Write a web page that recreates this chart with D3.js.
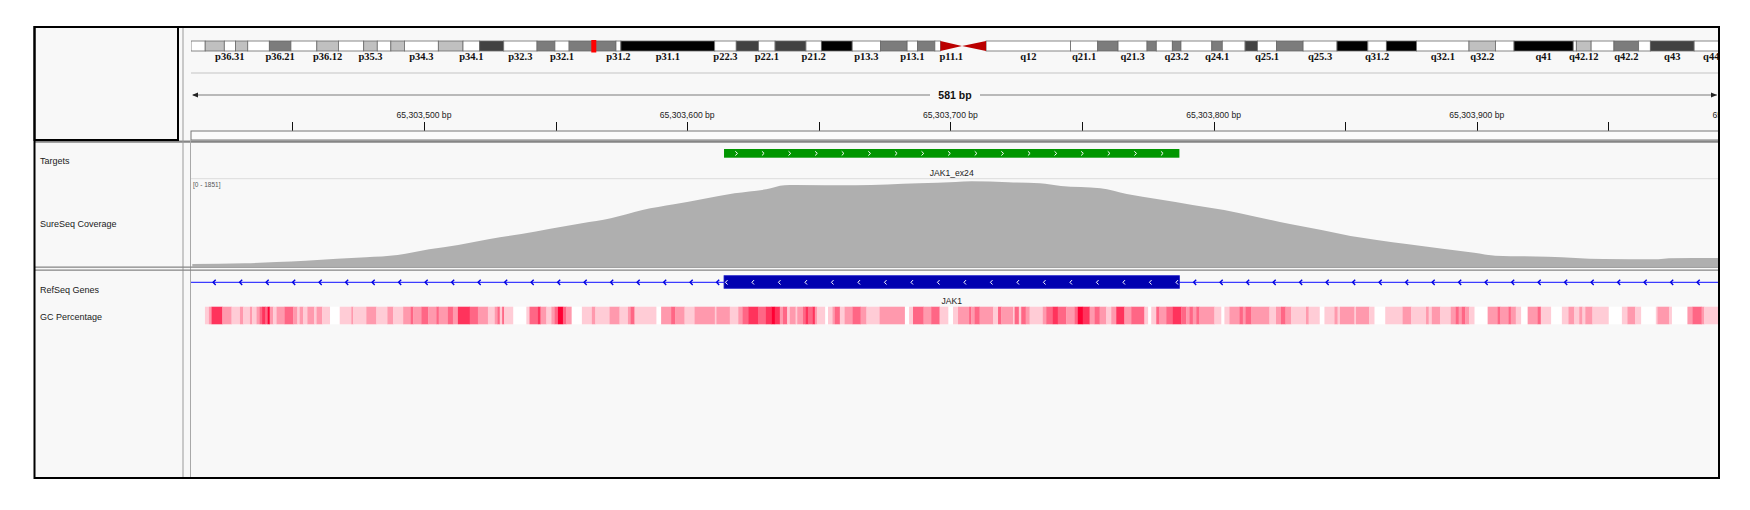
<!DOCTYPE html>
<html>
<head>
<meta charset="utf-8">
<script src="https://cdn.jsdelivr.net/npm/d3@7"></script>
<style>
  body { margin: 0; background: #fff; }
  svg { display: block; }
  text { font-family: "Liberation Sans", Arial, sans-serif; }
</style>
</head>
<body>
<script>
// ---- data ----
const chromName = "chr1";
const chromLengthMb = 249.250621;
const viewStart = 65303411.5;
const viewEnd = 65303992;

// cytobands, Mb
const bands = [
  ["p36.33", 0, 2.3, "gneg"], ["p36.32", 2.3, 5.4, "gpos25"], ["p36.31", 5.4, 7.2, "gneg"],
  ["p36.23", 7.2, 9.2, "gpos25"], ["p36.22", 9.2, 12.7, "gneg"], ["p36.21", 12.7, 16.2, "gpos50"],
  ["p36.13", 16.2, 20.4, "gneg"], ["p36.12", 20.4, 23.9, "gpos25"], ["p36.11", 23.9, 28.0, "gneg"],
  ["p35.3", 28.0, 30.2, "gpos25"], ["p35.2", 30.2, 32.4, "gneg"], ["p35.1", 32.4, 34.6, "gpos25"],
  ["p34.3", 34.6, 40.1, "gneg"], ["p34.2", 40.1, 44.1, "gpos25"], ["p34.1", 44.1, 46.8, "gneg"],
  ["p33", 46.8, 50.7, "gpos75"], ["p32.3", 50.7, 56.1, "gneg"], ["p32.2", 56.1, 59.0, "gpos50"],
  ["p32.1", 59.0, 61.3, "gneg"], ["p31.3", 61.3, 68.9, "gpos50"], ["p31.2", 68.9, 69.7, "gneg"],
  ["p31.1", 69.7, 84.9, "gpos100"], ["p22.3", 84.9, 88.4, "gneg"], ["p22.2", 88.4, 92.0, "gpos75"],
  ["p22.1", 92.0, 94.7, "gneg"], ["p21.3", 94.7, 99.7, "gpos75"], ["p21.2", 99.7, 102.2, "gneg"],
  ["p21.1", 102.2, 107.2, "gpos100"], ["p13.3", 107.2, 111.8, "gneg"], ["p13.2", 111.8, 116.1, "gpos50"],
  ["p13.1", 116.1, 117.8, "gneg"], ["p12", 117.8, 120.6, "gpos50"], ["p11.2", 120.6, 121.5, "gneg"],
  ["p11.1", 121.5, 125.0, "acen"], ["q11", 125.0, 128.9, "acen"], ["q12", 128.9, 142.6, "gvar"],
  ["q21.1", 142.6, 147.0, "gneg"], ["q21.2", 147.0, 150.3, "gpos50"], ["q21.3", 150.3, 155.0, "gneg"],
  ["q22", 155.0, 156.5, "gpos50"], ["q23.1", 156.5, 159.1, "gneg"], ["q23.2", 159.1, 160.5, "gpos50"],
  ["q23.3", 160.5, 165.5, "gneg"], ["q24.1", 165.5, 167.2, "gpos50"], ["q24.2", 167.2, 170.9, "gneg"],
  ["q24.3", 170.9, 172.9, "gpos75"], ["q25.1", 172.9, 176.0, "gneg"], ["q25.2", 176.0, 180.3, "gpos50"],
  ["q25.3", 180.3, 185.8, "gneg"], ["q31.1", 185.8, 190.8, "gpos100"], ["q31.2", 190.8, 193.8, "gneg"],
  ["q31.3", 193.8, 198.7, "gpos100"], ["q32.1", 198.7, 207.2, "gneg"], ["q32.2", 207.2, 211.5, "gpos25"],
  ["q32.3", 211.5, 214.5, "gneg"], ["q41", 214.5, 224.1, "gpos100"], ["q42.11", 224.1, 224.6, "gneg"],
  ["q42.12", 224.6, 227.0, "gpos25"], ["q42.13", 227.0, 230.7, "gneg"], ["q42.2", 230.7, 234.7, "gpos50"],
  ["q42.3", 234.7, 236.6, "gneg"], ["q43", 236.6, 243.7, "gpos75"], ["q44", 243.7, 249.25, "gneg"]
];
const bandLabels = ["p36.31", "p36.21", "p36.12", "p35.3", "p34.3", "p34.1", "p32.3", "p32.1",
  "p31.2", "p31.1", "p22.3", "p22.1", "p21.2", "p13.3", "p13.1", "p11.1", "q12", "q21.1", "q21.3",
  "q23.2", "q24.1", "q25.1", "q25.3", "q31.2", "q32.1", "q32.2", "q41", "q42.12", "q42.2", "q43", "q44"];

const rulerTicks = [65303450, 65303500, 65303550, 65303600, 65303650, 65303700, 65303750,
  65303800, 65303850, 65303900, 65303950];
const rulerLabels = [65303500, 65303600, 65303700, 65303800, 65303900, 65304000];

const trackNames = ["Targets", "SureSeq Coverage", "RefSeq Genes", "GC Percentage"];

const targets = [{ name: "JAK1_ex24", start: 65303614, end: 65303787 }];
const geneName = "JAK1";
const geneExons = [{ start: 65303614, end: 65303787 }];

const coverageMax = 1851;
const coveragePos = [65303412, 65303432, 65303444, 65303455, 65303467, 65303478, 65303490,
  65303502, 65303513, 65303525, 65303537, 65303548, 65303560, 65303571, 65303583, 65303595,
  65303606, 65303618, 65303630, 65303637, 65303641, 65303664, 65303688, 65303702, 65303708,
  65303722, 65303734, 65303742, 65303757, 65303767, 65303779, 65303792, 65303804, 65303816,
  65303829, 65303841, 65303852, 65303862, 65303874, 65303887, 65303899, 65303907, 65303927,
  65303948, 65303969, 65303973, 65303992];
const coverageVal = [53, 68, 96, 123, 166, 196, 245, 366, 458, 585, 692, 804, 919, 1026, 1202,
  1324, 1436, 1558, 1643, 1728, 1734, 1728, 1770, 1800, 1813, 1792, 1770, 1713, 1664, 1543,
  1430, 1309, 1202, 1060, 904, 777, 649, 564, 472, 379, 294, 230, 209, 160, 153, 174, 181];

// GC percentage runs: [offset in bp from viewStart, level 0..5]
const gcRuns = [
  [0, 0], [5.3, 1], [6.8, 2], [7.8, 4], [11.9, 2], [15.4, 1], [18.6, 2], [19.8, 1], [22.4, 2],
  [23.2, 1], [24.9, 2], [26.1, 3], [27, 4], [28.3, 3], [29.1, 5], [29.9, 2], [31.2, 1], [32.5, 2],
  [35.6, 3], [38.8, 2], [40.4, 1], [41.3, 2], [42.6, 1], [44.2, 2], [46.8, 1], [47.7, 2], [49.8, 1],
  [52.7, 0], [56.5, 1], [60.9, 2], [61.6, 1], [66.6, 2], [70.4, 1], [74.6, 2], [76.8, 1], [80.6, 2],
  [83.5, 3], [84.4, 2], [87.5, 3], [90.1, 2], [93.2, 3], [94.1, 2], [97.6, 3], [99.5, 2], [101.4, 4],
  [105.9, 3], [109, 2], [112.8, 1], [115.4, 2], [116.4, 3], [117.3, 1], [118.2, 3], [118.9, 1],
  [122.3, 0], [127.4, 1], [128.6, 3], [131.8, 4], [132.8, 2], [135, 1], [136.9, 2], [138.1, 3],
  [139.4, 5], [141.3, 3], [142.6, 2], [144.5, 0], [148.5, 1], [152.3, 2], [153.6, 1], [159, 2],
  [162.8, 1], [166, 2], [167, 3], [168.5, 1], [176.7, 0], [178.6, 2], [182.4, 3], [183.9, 2],
  [187.5, 1], [191.3, 2], [199, 1], [199.6, 2], [204.7, 1], [207.9, 2], [209.5, 3], [211.7, 4],
  [215.4, 3], [218.4, 4], [220.5, 5], [221.8, 4], [223.7, 2], [224.9, 3], [226.5, 1], [227.5, 2],
  [229.7, 1], [230.3, 2], [232.5, 3], [233.5, 4], [234.4, 3], [236.1, 4], [237, 2], [237.8, 1],
  [240.8, 0], [242, 1], [243.7, 2], [244.6, 3], [246.5, 1], [248.3, 2], [251.3, 3], [254.4, 2],
  [256.6, 1], [261.6, 2], [271.1, 0], [272.8, 1], [274.3, 3], [278.3, 2], [281.2, 3], [284.4, 1],
  [287.6, 0], [289.5, 1], [291.4, 2], [295.6, 3], [296.4, 2], [297.7, 3], [299.6, 2], [304.7, 1],
  [306.6, 3], [307.8, 2], [312.3, 1], [312.9, 3], [314.5, 1], [315.4, 3], [317.1, 2], [318.6, 1],
  [323.6, 2], [324.9, 3], [327.4, 4], [329.3, 3], [332.5, 2], [335.7, 3], [336.9, 5], [338.8, 4],
  [341.4, 2], [343.3, 3], [345.2, 2], [347.7, 1], [349.6, 2], [351.5, 4], [354.6, 2], [357.2, 3],
  [362.2, 1], [363.5, 0], [364.8, 1], [366.7, 3], [367.9, 2], [370.5, 3], [373, 4], [376.2, 3],
  [378.1, 2], [379.3, 3], [380.6, 2], [381.9, 3], [383.1, 2], [388.8, 1], [391.3, 0], [392.6, 1],
  [394.5, 2], [398.3, 3], [399.6, 2], [400.6, 3], [402.7, 2], [409.7, 1], [412.2, 2], [414.1, 3],
  [415.8, 2], [417.9, 1], [423.6, 2], [424.6, 1], [428.7, 0], [430.6, 1], [434.4, 2], [435.6, 1],
  [436.5, 2], [442, 1], [442.6, 2], [447.6, 1], [449.5, 0], [453.7, 1], [460.3, 2], [463.5, 1],
  [469.2, 2], [470.2, 1], [471.4, 2], [474.5, 1], [478.6, 2], [480.5, 3], [481.6, 2], [482.8, 3],
  [484.1, 2], [485.6, 1], [487.5, 0], [492.6, 2], [496.4, 3], [497.3, 2], [500.5, 3], [501.4, 2],
  [503.3, 1], [505.2, 0], [507.8, 2], [511.6, 3], [512.8, 1], [516.6, 0], [520.8, 1], [523.3, 2],
  [525.5, 1], [527.4, 2], [528.6, 1], [529.7, 2], [532.4, 1], [538.5, 0], [543.6, 1], [545.7, 2],
  [548.6, 1], [550.8, 0], [556.5, 1], [557.1, 2], [561.5, 1], [562.5, 0], [568.5, 2], [570.4, 3],
  [573.9, 2], [574.8, 1]
];

// ---- layout ----
const W = 1750, H = 510;
const frame = { left: 34.5, top: 27, right: 1719, bottom: 478 };
const dataLeft = 191, dataRight = 1719;
const stainColor = { gneg: "#ffffff", gvar: "#ffffff", gpos25: "#c0c0c0", gpos50: "#7c7c7c",
  gpos75: "#424242", gpos100: "#000000", acen: "#bb0000" };

const x = d3.scaleLinear().domain([viewStart, viewEnd]).range([dataLeft, dataRight]);
const xChrom = d3.scaleLinear().domain([0, chromLengthMb]).range([191, 191 + chromLengthMb * 6.168]);
const yCov = d3.scaleLinear().domain([0, coverageMax]).range([266.5, 179.5]);
const gcColor = d3.scaleLinear().domain([0, 5]).range(["#ffffff", "#ff0033"]);

const svg = d3.select("body").append("svg")
  .attr("width", W).attr("height", H);

svg.append("rect").attr("width", W).attr("height", H).attr("fill", "#ffffff");

const defs = svg.append("defs");
defs.append("clipPath").attr("id", "dataClip")
  .append("rect").attr("x", dataLeft).attr("y", frame.top)
  .attr("width", dataRight - dataLeft - 1).attr("height", frame.bottom - frame.top);

// panel background
svg.append("rect")
  .attr("x", frame.left).attr("y", frame.top)
  .attr("width", frame.right - frame.left).attr("height", frame.bottom - frame.top)
  .attr("fill", "#f8f8f8");

const data = svg.append("g").attr("clip-path", "url(#dataClip)");

// ---- ideogram ----
const ideo = { top: 41, bottom: 51 };
data.selectAll("rect.band")
  .data(bands.filter(b => b[3] !== "acen"))
  .join("rect")
  .attr("class", "band")
  .attr("x", b => xChrom(b[1]))
  .attr("y", ideo.top)
  .attr("width", b => xChrom(b[2]) - xChrom(b[1]))
  .attr("height", ideo.bottom - ideo.top)
  .attr("fill", b => stainColor[b[3]])
  .attr("stroke", "#6a6a6a")
  .attr("stroke-width", 0.8);

data.selectAll("path.acen")
  .data(bands.filter(b => b[3] === "acen"))
  .join("path")
  .attr("class", "acen")
  .attr("fill", stainColor.acen)
  .attr("d", b => {
    const x0 = xChrom(b[1]), x1 = xChrom(b[2]), mid = (ideo.top + ideo.bottom) / 2;
    return b[0].startsWith("p")
      ? `M${x0},${ideo.top}L${x1},${mid}L${x0},${ideo.bottom}Z`
      : `M${x1},${ideo.top}L${x0},${mid}L${x1},${ideo.bottom}Z`;
  });

data.selectAll("text.bandLabel")
  .data(bands.filter(b => bandLabels.includes(b[0])))
  .join("text")
  .attr("class", "bandLabel")
  .attr("x", b => xChrom((b[1] + b[2]) / 2))
  .attr("y", 60)
  .attr("text-anchor", "middle")
  .style("font-family", "'Liberation Serif', 'Times New Roman', serif")
  .style("font-weight", "bold")
  .style("font-size", "10.5px")
  .attr("fill", "#111")
  .text(b => b[0]);

// current region marker
const regionMb = [viewStart / 1e6, viewEnd / 1e6];
const rx = xChrom(regionMb[0]);
data.append("rect")
  .attr("x", rx - 2.5)
  .attr("y", 40)
  .attr("width", Math.max(5, xChrom(regionMb[1]) - rx))
  .attr("height", 12.5)
  .attr("fill", "#ff0000");

// ---- ruler ----
svg.append("line")
  .attr("x1", dataLeft).attr("x2", dataRight)
  .attr("y1", 73).attr("y2", 73)
  .attr("stroke", "#dedede").attr("stroke-width", 2);

const spanText = d3.format(",")(Math.round(viewEnd - viewStart)) + " bp";
const midX = (dataLeft + dataRight) / 2;
const gap = 25;
svg.append("line").attr("x1", dataLeft + 2).attr("x2", midX - gap)
  .attr("y1", 95).attr("y2", 95).attr("stroke", "#7a7a7a").attr("stroke-width", 1.2);
svg.append("line").attr("x1", midX + gap).attr("x2", dataRight - 2)
  .attr("y1", 95).attr("y2", 95).attr("stroke", "#7a7a7a").attr("stroke-width", 1.2);
svg.append("path").attr("d", `M${dataLeft + 1},95l6,-2.5v5z`).attr("fill", "#222");
svg.append("path").attr("d", `M${dataRight - 2},95l-6,-2.5v5z`).attr("fill", "#222");
svg.append("text")
  .attr("x", midX).attr("y", 99)
  .attr("text-anchor", "middle")
  .style("font-weight", "bold").style("font-size", "10.5px")
  .attr("fill", "#111")
  .text(spanText);

data.selectAll("text.tickLabel")
  .data(rulerLabels)
  .join("text")
  .attr("class", "tickLabel")
  .attr("x", d => x(d)).attr("y", 118)
  .attr("text-anchor", "middle")
  .style("font-size", "8.6px")
  .attr("fill", "#222")
  .text(d => d3.format(",")(d) + " bp");

data.selectAll("line.tick")
  .data(rulerTicks)
  .join("line")
  .attr("class", "tick")
  .attr("x1", d => Math.round(x(d)) + 0.5).attr("x2", d => Math.round(x(d)) + 0.5)
  .attr("y1", 122).attr("y2", 131)
  .attr("stroke", "#111").attr("stroke-width", 1);

svg.append("rect")
  .attr("x", dataLeft).attr("y", 131)
  .attr("width", dataRight - dataLeft).attr("height", 9)
  .attr("fill", "#fbfbfb").attr("stroke", "#777").attr("stroke-width", 1);

// ---- panel lines ----
svg.append("line").attr("x1", frame.left).attr("x2", frame.right)
  .attr("y1", 141.6).attr("y2", 141.6).attr("stroke", "#858585").attr("stroke-width", 2.4);
svg.append("line").attr("x1", 183).attr("x2", 183)
  .attr("y1", frame.top).attr("y2", frame.bottom).attr("stroke", "#9a9a9a").attr("stroke-width", 1);
svg.append("line").attr("x1", 190.5).attr("x2", 190.5)
  .attr("y1", 141).attr("y2", frame.bottom).attr("stroke", "#a8a8a8").attr("stroke-width", 1);
svg.append("line").attr("x1", dataLeft).attr("x2", dataRight)
  .attr("y1", 178.7).attr("y2", 178.7).attr("stroke", "#dcdcdc").attr("stroke-width", 1);
[267.2, 270.1].forEach(yy => {
  svg.append("line").attr("x1", frame.left).attr("x2", frame.right)
    .attr("y1", yy).attr("y2", yy).attr("stroke", "#858585").attr("stroke-width", 1.3);
});

// ---- track names ----
const nameY = [164, 226.5, 293, 319.5];
svg.selectAll("text.trackName")
  .data(trackNames)
  .join("text")
  .attr("class", "trackName")
  .attr("x", 40)
  .attr("y", (d, i) => nameY[i])
  .style("font-size", "9px")
  .attr("fill", "#1a1a1a")
  .text(d => d);

// ---- targets ----
const tgt = data.append("g");
tgt.selectAll("rect")
  .data(targets)
  .join("rect")
  .attr("x", d => x(d.start)).attr("y", 149)
  .attr("width", d => x(d.end) - x(d.start)).attr("height", 8.7)
  .attr("fill", "#009600");
targets.forEach(t => {
  const pts = d3.range(x(t.start) + 12.3, x(t.end) - 4, 26.6);
  tgt.selectAll(null).data(pts).join("path")
    .attr("d", p => `M${p - 1},${151.3}L${p + 1.2},${153.4}L${p - 1},${155.5}`)
    .attr("fill", "none").attr("stroke", "#ffffff").attr("stroke-width", 1);
  tgt.append("text")
    .attr("x", (x(t.start) + x(t.end)) / 2).attr("y", 176)
    .attr("text-anchor", "middle")
    .style("font-size", "8.6px").attr("fill", "#222")
    .text(t.name);
});

// ---- coverage ----
svg.append("text")
  .attr("x", 193).attr("y", 187)
  .style("font-size", "6.5px").attr("fill", "#555")
  .text(`[0 - ${coverageMax}]`);

const covData = coveragePos.map((p, i) => ({ p, v: coverageVal[i] }));
data.append("path")
  .datum(covData)
  .attr("fill", "#afafaf")
  .attr("d", d3.area().x(d => x(d.p)).y0(yCov(0)).y1(d => yCov(d.v)).curve(d3.curveMonotoneX));

// ---- RefSeq gene ----
const geneY = 282.3;
const gene = data.append("g");
gene.append("line")
  .attr("x1", dataLeft).attr("x2", dataRight)
  .attr("y1", geneY).attr("y2", geneY)
  .attr("stroke", "#3c3cff").attr("stroke-width", 1.3);
const intronArrows = d3.range(214.3, dataRight, 26.5)
  .filter(p => geneExons.every(e => p < x(e.start) - 3 || p > x(e.end) + 3));
gene.selectAll("path.intron").data(intronArrows).join("path")
  .attr("class", "intron")
  .attr("d", p => `M${p + 1.4},${geneY - 2.6}L${p - 1.2},${geneY}L${p + 1.4},${geneY + 2.6}`)
  .attr("fill", "none").attr("stroke", "#0000e0").attr("stroke-width", 1.4);
gene.selectAll("rect.exon").data(geneExons).join("rect")
  .attr("class", "exon")
  .attr("x", d => x(d.start)).attr("y", 275.7)
  .attr("width", d => x(d.end) - x(d.start)).attr("height", 12.6)
  .attr("fill", "#0000b0").attr("stroke", "#1e1ec8").attr("stroke-width", 0.8);
geneExons.forEach(e => {
  const pts = d3.range(x(e.start) + 2.5, x(e.end) + 1, 26.5);
  gene.selectAll(null).data(pts).join("path")
    .attr("d", p => `M${p + 1},${geneY - 2.2}L${p - 1.1},${geneY}L${p + 1},${geneY + 2.2}`)
    .attr("fill", "none").attr("stroke", "#ffffff").attr("stroke-width", 1);
});
gene.append("text")
  .attr("x", (x(geneExons[0].start) + x(geneExons[0].end)) / 2).attr("y", 304)
  .attr("text-anchor", "middle")
  .style("font-size", "8.6px").attr("fill", "#222")
  .text(geneName);

// ---- GC percentage ----
const gcTop = 306.7, gcH = 17.6;
const gcCells = gcRuns.map((r, i) => ({
  start: viewStart + r[0],
  end: i + 1 < gcRuns.length ? viewStart + gcRuns[i + 1][0] : viewEnd,
  level: r[1]
}));
data.append("rect")
  .attr("x", x(viewStart + 5.3)).attr("y", gcTop)
  .attr("width", dataRight - x(viewStart + 5.3)).attr("height", gcH)
  .attr("fill", "#ffffff");
data.selectAll("rect.gc")
  .data(gcCells.filter(c => c.level > 0))
  .join("rect")
  .attr("class", "gc")
  .attr("x", d => x(d.start)).attr("y", gcTop)
  .attr("width", d => x(d.end) - x(d.start) + 0.3).attr("height", gcH)
  .attr("fill", d => gcColor(d.level));

// ---- frame borders ----
svg.append("rect")
  .attr("x", frame.left).attr("y", frame.top)
  .attr("width", frame.right - frame.left).attr("height", frame.bottom - frame.top)
  .attr("fill", "none").attr("stroke", "#000").attr("stroke-width", 2);
svg.append("rect")
  .attr("x", frame.left).attr("y", frame.top)
  .attr("width", 178 - frame.left).attr("height", 140 - frame.top)
  .attr("fill", "none").attr("stroke", "#000").attr("stroke-width", 2);
</script>
</body>
</html>
